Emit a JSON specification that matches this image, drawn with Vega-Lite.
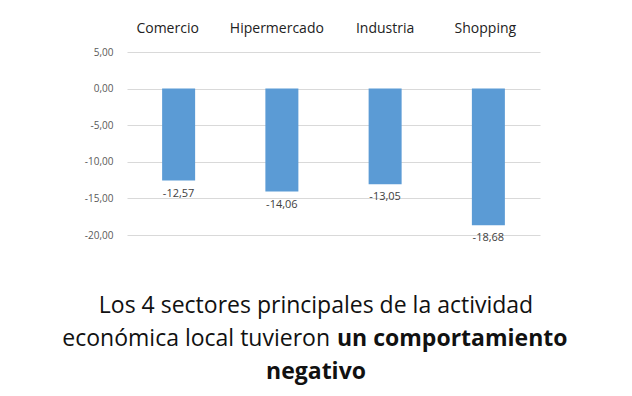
{
  "$schema": "https://vega.github.io/schema/vega-lite/v6.json",
  "background": "white",
  "padding": 5,
  "spacing": 45,
  "config": {
    "view": {"stroke": null},
    "font": "Open Sans",
    "locale": {"number": {"decimal": ",", "thousands": ".", "grouping": [3], "currency": ["", ""], "minus": "-"}}
  },
  "datasets": {
    "sectores": [
      {"sector": "Comercio", "valor": -12.57},
      {"sector": "Hipermercado", "valor": -14.06},
      {"sector": "Industria", "valor": -13.05},
      {"sector": "Shopping", "valor": -18.68}
    ],
    "caption": [
      {"line": 1, "part": "l1", "text": "Los 4 sectores principales de la actividad"},
      {"line": 2, "part": "l2a", "text": "económica local tuvieron"},
      {"line": 2, "part": "l2b", "text": "un comportamiento"},
      {"line": 3, "part": "l3", "text": "negativo"}
    ]
  },
  "vconcat": [
    {
      "width": 413,
      "height": 183,
      "data": {"name": "sectores"},
      "encoding": {
        "x": {
          "field": "sector", "type": "nominal", "sort": null,
          "scale": {"paddingInner": 0, "paddingOuter": 0},
          "axis": {"orient": "top", "title": null, "ticks": false, "domain": false, "labelAngle": 0,
                   "labelFontSize": 14, "labelColor": "#222222", "labelPadding": 17,
                   "labelOffset": {"condition": [
                     {"test": "datum.value === 'Comercio'", "value": -11},
                     {"test": "datum.value === 'Hipermercado'", "value": -5},
                     {"test": "datum.value === 'Industria'", "value": 0}
                   ], "value": -3},
                   "minExtent": 47, "maxExtent": 47}
        },
        "y": {
          "field": "valor", "type": "quantitative",
          "scale": {"domain": [-20, 5], "nice": false},
          "axis": {"values": [5, 0, -5, -10, -15, -20], "format": ".2f", "title": null,
                   "domain": false, "ticks": false, "gridColor": "#d9d9d9",
                   "labelColor": "#595959", "labelFontSize": 10, "labelPadding": 14,
                   "minExtent": 122, "maxExtent": 122}
        }
      },
      "layer": [
        {
          "mark": {"type": "bar", "color": "#5B9BD5", "size": 33}
        },
        {
          "mark": {"type": "text", "baseline": "middle", "dy": 13, "fontSize": 11, "color": "#404040"},
          "encoding": {
            "text": {"field": "valor", "type": "quantitative", "format": ".2f"}
          }
        }
      ]
    },
    {
      "width": 378,
      "height": 100,
      "data": {"name": "caption"},
      "encoding": {"y": {"field": "line", "type": "ordinal", "axis": null}},
      "layer": [
        {
          "transform": [{"filter": "datum.part === 'l1'"}],
          "mark": {"type": "text", "align": "center", "baseline": "middle", "fontSize": 23, "color": "#111111"},
          "encoding": {"text": {"field": "text"}}
        },
        {
          "transform": [{"filter": "datum.part === 'l2a'"}],
          "mark": {"type": "text", "align": "right", "baseline": "middle", "dx": 14, "fontSize": 23, "color": "#111111"},
          "encoding": {"text": {"field": "text"}}
        },
        {
          "transform": [{"filter": "datum.part === 'l2b'"}],
          "mark": {"type": "text", "align": "left", "baseline": "middle", "dx": 21, "fontSize": 23, "fontWeight": "bold", "color": "#111111"},
          "encoding": {"text": {"field": "text"}}
        },
        {
          "transform": [{"filter": "datum.part === 'l3'"}],
          "mark": {"type": "text", "align": "center", "baseline": "middle", "fontSize": 23, "fontWeight": "bold", "color": "#111111"},
          "encoding": {"text": {"field": "text"}}
        }
      ]
    }
  ]
}
